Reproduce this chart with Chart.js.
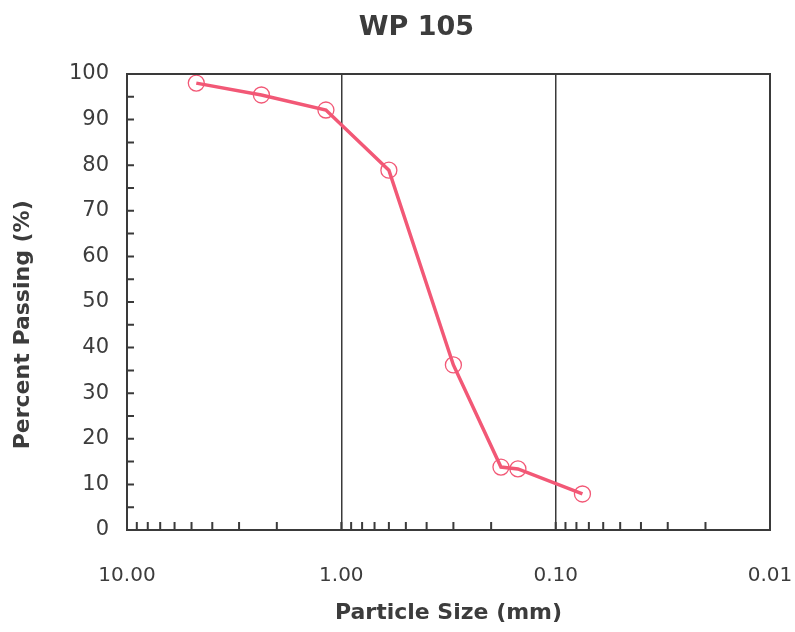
<!DOCTYPE html>
<html>
<head>
    <title>WP 105</title>
    <style>
        body { margin: 0; background: white; }
        #wrap { width: 795px; height: 632px; }
    </style>
    <script src="https://cdn.jsdelivr.net/npm/chart.js"></script>
</head>
<body>
    <div id="wrap"><canvas id="grain-chart"></canvas></div>
    <script>
        // sieve sizes (mm) and percent passing
        const sizes = [4.75, 2.36, 1.18, 0.60, 0.30, 0.18, 0.15, 0.075];
        const passing = [98.0, 95.4, 92.1, 78.9, 36.2, 13.8, 13.4, 7.9];
        const decades = [10, 1, 0.1, 0.01];
        const xTickLabels = ['10.00', '1.00', '0.10', '0.01'];
        const yTicks = [0, 10, 20, 30, 40, 50, 60, 70, 80, 90, 100];
        const chartTitle = 'WP 105';
        const yTitle = 'Percent Passing (%)';

        const lineColor = 'rgb(242, 88, 118)';
        const axisColor = '#3a3a3a';
        const textColor = '#3c3c3c';

        // frame, small inside tick marks, title and y-axis title
        const frameTicks = {
            id: 'frameTicks',
            afterDatasetsDraw(chart) {
                const { ctx, chartArea: a, scales: { x, y } } = chart;
                ctx.save();
                ctx.strokeStyle = axisColor;
                ctx.lineWidth = 2;
                ctx.strokeRect(a.left, a.top, a.right - a.left, a.bottom - a.top);
                ctx.beginPath();
                // minor ticks on x, 1..9 of each decade
                [1, 0.1, 0.01].forEach(d => {
                    for (let k = 1; k <= 9; k++) {
                        const px = x.getPixelForValue(k * d);
                        ctx.moveTo(px, a.bottom);
                        ctx.lineTo(px, a.bottom - 8);
                    }
                });
                // y ticks every 5
                for (let v = 5; v < 100; v += 5) {
                    const py = y.getPixelForValue(v);
                    ctx.moveTo(a.left, py);
                    ctx.lineTo(a.left + 7, py);
                }
                ctx.stroke();

                ctx.fillStyle = textColor;
                ctx.textAlign = 'center';
                ctx.textBaseline = 'middle';
                // title sits a little right of the canvas centre
                ctx.font = 'bold 27px "DejaVu Sans"';
                ctx.fillText(chartTitle, a.left + (a.right - a.left) * 0.45, a.top - 46);
                // y title sits a bit below the plot middle
                ctx.font = 'bold 22px "DejaVu Sans"';
                ctx.translate(23, y.getPixelForValue(45));
                ctx.rotate(-Math.PI / 2);
                ctx.fillText(yTitle, 0, 0);
                ctx.restore();
            }
        };

        const ctx = document.getElementById('grain-chart').getContext('2d');
        new Chart(ctx, {
            type: 'line',
            data: {
                datasets: [{
                    data: sizes.map((s, i) => ({ x: s, y: passing[i] })),
                    borderColor: lineColor,
                    borderWidth: 3.5,
                    pointRadius: 8,
                    pointBorderWidth: 1.3,
                    pointBorderColor: lineColor,
                    pointBackgroundColor: 'rgba(0,0,0,0)',
                    tension: 0,
                    fill: false
                }]
            },
            options: {
                responsive: true,
                maintainAspectRatio: false,
                animation: false,
                layout: { padding: { left: 10, right: 25, top: 74, bottom: 6 } },
                plugins: {
                    legend: { display: false },
                    tooltip: { enabled: false },
                    title: { display: false }
                },
                scales: {
                    x: {
                        type: 'logarithmic',
                        reverse: true,
                        min: 0.01,
                        max: 10,
                        afterBuildTicks: s => { s.ticks = decades.map(v => ({ value: v })); },
                        afterFit: s => { s.height = 96; s.paddingLeft = 0; s.paddingRight = 0; },
                        ticks: {
                            autoSkip: false,
                            maxRotation: 0,
                            padding: 34,
                            color: textColor,
                            font: { family: 'DejaVu Sans', size: 20 },
                            callback: v => xTickLabels[decades.indexOf(v)]
                        },
                        grid: {
                            drawTicks: false,
                            lineWidth: 1.5,
                            color: c => (c.tick && (c.tick.value === 1 || c.tick.value === 0.1)) ? axisColor : 'rgba(0,0,0,0)'
                        },
                        border: { display: false },
                        title: {
                            display: true,
                            text: 'Particle Size (mm)',
                            color: textColor,
                            font: { family: 'DejaVu Sans', size: 22, weight: 'bold' },
                            padding: { top: 4, bottom: 0 }
                        }
                    },
                    y: {
                        min: 0,
                        max: 100,
                        afterBuildTicks: s => { s.ticks = yTicks.map(v => ({ value: v })); },
                        afterFit: s => { s.width = 117; s.paddingTop = 0; s.paddingBottom = 0; },
                        ticks: {
                            padding: 18,
                            color: textColor,
                            font: { family: 'DejaVu Sans', size: 21 }
                        },
                        grid: { display: false, drawTicks: false },
                        border: { display: false },
                        title: { display: false }
                    }
                }
            },
            plugins: [frameTicks]
        });
    </script>
</body>
</html>
